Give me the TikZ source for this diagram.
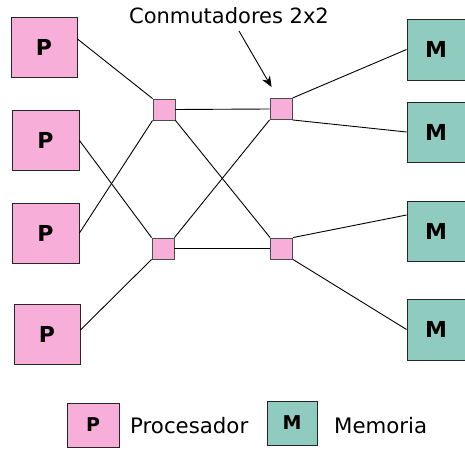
\documentclass[tikz,border=0pt]{standalone}
\usepackage{fontspec}
\setmainfont{DejaVu Sans}
\usetikzlibrary{arrows.meta,calc}
\definecolor{procpink}{RGB}{247,174,216}
\definecolor{memteal}{RGB}{143,203,191}
\tikzset{
  wire/.style={draw=black, line width=0.9pt},
  procbox/.style={draw=black!85, line width=0.9pt, fill=procpink, minimum width=#1, minimum height=60pt,
    inner sep=0pt, font=\fontsize{22}{22}\selectfont\bfseries},
  procbox/.default=66pt,
  membox/.style={draw=black!85, line width=0.9pt, fill=memteal, minimum width=58pt, minimum height=60pt,
    inner sep=0pt, font=\fontsize{22}{22}\selectfont\bfseries},
  switchbox/.style={draw=black!70, line width=0.9pt, fill=procpink, minimum width=22pt, minimum height=21pt, inner sep=0pt},
  legendbox/.style={draw=black!85, line width=0.9pt, minimum width=51pt, minimum height=44pt,
    inner sep=0pt, font=\fontsize{19}{19}\selectfont\bfseries},
  legendtext/.style={anchor=west, inner sep=0pt, font=\fontsize{21.3}{21.3}\selectfont},
}
\begin{document}
\begin{tikzpicture}[x=1pt, y=-1pt]
  \useasboundingbox (0,0) rectangle (465,449);

  % processors
  \node[procbox] (p1) at (44,47) {P};
  \node[procbox=67pt] (p2) at (45.5,140.5) {P};
  \node[procbox=67pt] (p3) at (45.5,233) {P};
  \node[procbox] (p4) at (47,334) {P};

  % 2x2 switches
  \node[switchbox] (s1) at (164,109.5) {};
  \node[switchbox] (s2) at (281,109) {};
  \node[switchbox] (s3) at (163,248.5) {};
  \node[switchbox] (s4) at (281.5,248.5) {};

  % memories
  \node[membox, minimum height=61pt] (m1) at (436,49.5) {M};
  \node[membox] (m2) at (436,132) {M};
  \node[membox] (m3) at (436,231) {M};
  \node[membox, minimum height=61pt] (m4) at (436,329.5) {M};

  % processor side of the network
  \draw[wire] ([yshift=8pt]p1.east) -- (s1.north west);
  \draw[wire] (p2.east) -- (s3.north west);
  \draw[wire] (p3.east) -- (s1.south west);
  \draw[wire] ([yshift=4pt]p4.east) -- (s3.south west);

  % middle stage
  \draw[wire] (s1.east) -- (s2.west);
  \draw[wire] (s1.south east) -- (s4.north west);
  \draw[wire] (s3.north east) -- (s2.south west);
  \draw[wire] (s3.east) -- (s4.west);

  % memory side of the network
  \draw[wire] (s2.north east) -- (m1.west);
  \draw[wire] (s2.south east) -- (m2.west);
  \draw[wire] (s4.north east) -- ([yshift=16pt]m3.west);
  \draw[wire] (s4.south east) -- (m4.west);

  % switch caption
  \node[inner sep=0pt, font=\fontsize{21}{21}\selectfont] (cap) at (229,16) {Conmutadores 2x2};
  \coordinate (capfoot) at (239,31);
  \draw[wire, -{Stealth[length=11pt, width=9pt]}] (capfoot) -- ($(s2.north west)+(2,-11)$);

  % legend
  \node[legendbox, fill=procpink, minimum width=52pt] (lp) at (93,425) {P};
  \node[legendtext] (lpt) at (130,426) {Procesador};
  \node[legendbox, fill=memteal, minimum width=50pt] (lm) at (292,423) {M};
  \node[legendtext] (lmt) at (334,426) {Memoria};
\end{tikzpicture}
\end{document}
